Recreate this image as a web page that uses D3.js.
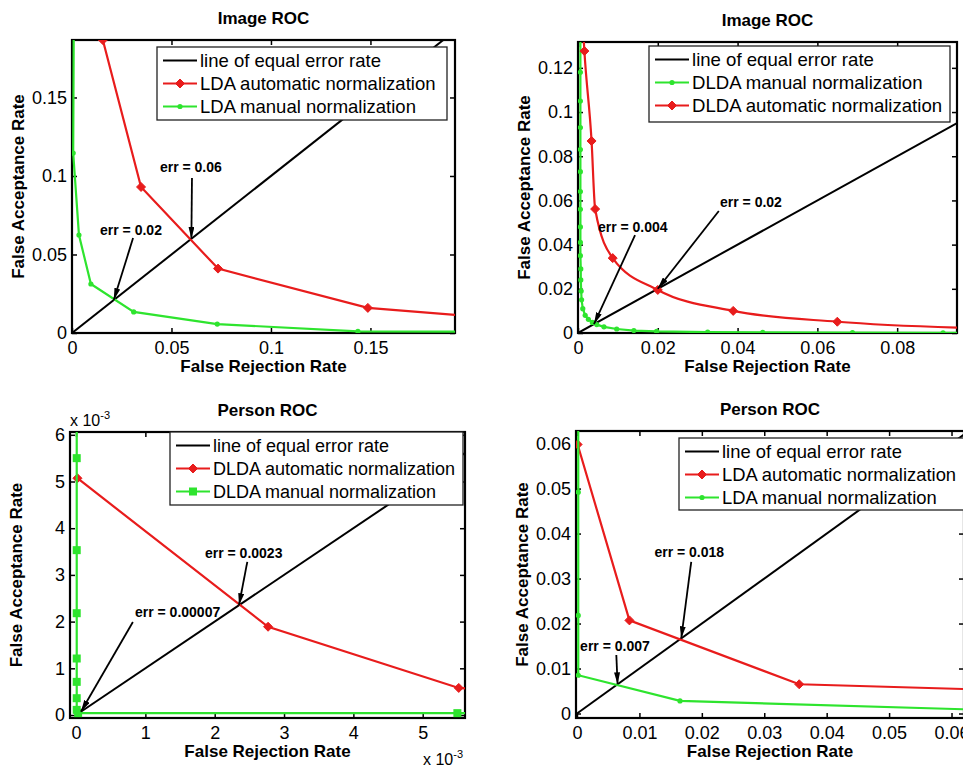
<!DOCTYPE html>
<html>
<head>
<meta charset="utf-8">
<title>Image and Person ROC</title>
<script src="https://d3js.org/d3.v7.min.js"></script>
<style>
	body { margin: 0; background: #fff; }
	svg { font-family: "Liberation Sans", Arial, sans-serif; }
</style>
</head>
<body>
<script>
	// points are [false rejection rate, false acceptance rate]

	// Image ROC, LDA (top left)
	var imgLdaAuto = [[0.0155,0.1866],[0.0347,0.093],[0.0734,0.041],[0.1487,0.016],[0.2,0.0108]];
	var imgLdaManual = [[0.0009,0.2],[0.0006,0.1146],[0.0035,0.0624],[0.0095,0.0312],[0.031,0.0134],[0.073,0.0057],[0.1437,0.001],[0.2,0.0008]];
	var imgLdaErr = [[0.06,0.06],[0.021,0.021]];
	var imgLdaErrText = ["err = 0.06", "err = 0.02"];

	// Image ROC, DLDA (top right)
	var imgDldaManual = [[0.0006,0.14],[0.0006,0.118],[0.0006,0.105],[0.0006,0.093],[0.0006,0.083],[0.0006,0.073],
		[0.0006,0.064],[0.0006,0.056],[0.0006,0.048],[0.0006,0.041],[0.0006,0.035],[0.0007,0.029],[0.0007,0.024],
		[0.0008,0.019],[0.0009,0.015],[0.0012,0.011],[0.0018,0.008],[0.0026,0.0062],[0.0036,0.0048],[0.0047,0.0038],
		[0.0065,0.0028],[0.0097,0.0018],[0.014,0.0011],[0.0197,0.0007],[0.0325,0.0004],[0.0463,0.0003],
		[0.0688,0.0002],[0.0915,0.0001],[0.1,0.0001]];
	var imgDldaAuto = [[0.0012,0.14],[0.0016,0.1276],[0.0034,0.0869],[0.0043,0.0561],[0.0087,0.0339],[0.02,0.0195],
		[0.0389,0.01],[0.065,0.0051],[0.1,0.0021]];
	var imgDldaErr = [[0.02,0.02],[0.004,0.004]];
	var imgDldaErrText = ["err = 0.02", "err = 0.004"];

	// Person ROC, DLDA (bottom left)
	var perDldaAuto = [[0.00002,0.00507],[0.00277,0.00189],[0.00552,0.00058],[0.0058,0.00055]];
	var perDldaManual = [[0.00001,0.0065],[0.00001,0.0055],[0.00001,0.00353],[0.00001,0.00218],[0.00001,0.00121],
		[0.00001,0.00071],[0.00001,0.00036],[0.00001,0.00011],[0.00003,0.00004],[0.0055,0.00004],[0.0058,0.00004]];
	var perDldaErr = [[0.00235,0.00235],[0.00007,0.00007]];
	var perDldaErrText = ["err = 0.0023", "err = 0.00007"];

	// Person ROC, LDA (bottom right)
	var perLdaAuto = [[0.0001,0.0598],[0.0084,0.0207],[0.0356,0.0065],[0.063,0.0054]];
	var perLdaManual = [[0.0002,0.07],[0.0002,0.0492],[0.0002,0.0218],[0.0002,0.0085],[0.0165,0.0028],[0.063,0.0009]];
	var perLdaErr = [[0.0167,0.0167],[0.0065,0.0065]];
	var perLdaErrText = ["err = 0.018", "err = 0.007"];

	var equalErrorLine = [[0,0],[1,1]];

	// tick values
	var p1XTicks = [0,0.05,0.1,0.15], p1YTicks = [0,0.05,0.1,0.15];
	var p2XTicks = [0,0.02,0.04,0.06,0.08], p2YTicks = [0,0.02,0.04,0.06,0.08,0.1,0.12];
	var p3XTicks = [0,0.001,0.002,0.003,0.004,0.005], p3YTicks = [0,0.001,0.002,0.003,0.004,0.005,0.006];
	var p4XTicks = [0,0.01,0.02,0.03,0.04,0.05,0.06], p4YTicks = [0,0.01,0.02,0.03,0.04,0.05,0.06];

	var RED = "#e81c1c", GREEN = "#2ee42e";
	var plain = function(v) { return String(v); },
		milli = function(v) { return String(Math.round(v * 1000)); };

	var panels = [
		{ title: "Image ROC", box: [72, 40, 455, 333], xDomain: [0, 0.1925], yDomain: [0, 0.1866],
		  xTicks: p1XTicks, yTicks: p1YTicks, fmt: plain,
		  series: [
			{ data: imgLdaAuto, color: RED, marker: "diamond", name: "LDA automatic normalization" },
			{ data: imgLdaManual, color: GREEN, marker: "dot", name: "LDA manual normalization" }],
		  legend: [157, 47, 290, 73], legendFont: 18.5,
		  notes: [{ tip: imgLdaErr[0], text: imgLdaErrText[0], tail: [0.0603, 0.0987], at: [0.0442, 0.1025] },
				  { tip: imgLdaErr[1], text: imgLdaErrText[1], tail: [0.0307, 0.0605], at: [0.0141, 0.0624] }] },
		{ title: "Image ROC", box: [578, 42, 957, 333], xDomain: [0, 0.095], yDomain: [0, 0.1317],
		  xTicks: p2XTicks, yTicks: p2YTicks, fmt: plain, smooth: true,
		  series: [
			{ data: imgDldaManual, color: GREEN, marker: "dot", name: "DLDA manual normalization" },
			{ data: imgDldaAuto, color: RED, marker: "diamond", name: "DLDA automatic normalization" }],
		  legend: [649, 46, 301, 76], legendFont: 18.6,
		  notes: [{ tip: imgDldaErr[0], text: imgDldaErrText[0], tail: [0.0353, 0.0552], at: [0.0356, 0.057] },
				  { tip: imgDldaErr[1], text: imgDldaErrText[1], tail: [0.0143, 0.0443], at: [0.005, 0.0457] }] },
		{ title: "Person ROC", box: [70, 432, 465, 718], xDomain: [-0.000087, 0.00561], yDomain: [-0.000064, 0.00606],
		  xTicks: p3XTicks, yTicks: p3YTicks, fmt: milli, exponent: true,
		  series: [
			{ data: perDldaAuto, color: RED, marker: "diamond", name: "DLDA automatic normalization" },
			{ data: perDldaManual, color: GREEN, marker: "square", name: "DLDA manual normalization" }],
		  legend: [170, 432, 293, 73], legendFont: 18,
		  notes: [{ tip: perDldaErr[0], text: perDldaErrText[0], tail: [0.00247, 0.00328], at: [0.00186, 0.00336] },
				  { tip: perDldaErr[1], text: perDldaErrText[1], tail: [0.00082, 0.00199], at: [0.00085, 0.0021] }] },
		{ title: "Person ROC", box: [576, 431, 964, 718], xDomain: [-0.00016, 0.062], yDomain: [-0.001, 0.0628],
		  xTicks: p4XTicks, yTicks: p4YTicks, fmt: plain,
		  series: [
			{ data: perLdaAuto, color: RED, marker: "diamond", name: "LDA automatic normalization" },
			{ data: perLdaManual, color: GREEN, marker: "dot", name: "LDA manual normalization" }],
		  legend: [679, 438, 290, 72], legendFont: 18.4,
		  notes: [{ tip: perLdaErr[0], text: perLdaErrText[0], tail: [0.0183, 0.0337], at: [0.0124, 0.0347] },
				  { tip: perLdaErr[1], text: perLdaErrText[1], tail: [0.0063, 0.013], at: [0.0005, 0.0139] }] }
	];

	var svg = d3.select("body").append("svg")
		.attr("width", 963)
		.attr("height", 767);
	var defs = svg.append("defs");

	defs.append("marker")
		.attr("id", "arrowhead")
		.attr("viewBox", "0 0 12 6")
		.attr("refX", 12).attr("refY", 3)
		.attr("markerWidth", 12).attr("markerHeight", 6)
		.attr("markerUnits", "userSpaceOnUse")
		.attr("orient", "auto")
		.append("path").attr("d", "M0,0 L12,3 L0,6 Z").attr("fill", "#000");

	// marker shapes
	function drawMarker(sel, kind, color) {
		if (kind === "diamond") {
			sel.append("path").attr("d", "M0,-4.5L4.5,0L0,4.5L-4.5,0Z").attr("fill", color).attr("stroke", color);
		} else if (kind === "square") {
			sel.append("rect").attr("x", -4).attr("y", -4).attr("width", 8).attr("height", 8).attr("fill", color);
		} else {
			sel.append("circle").attr("r", 2.6).attr("fill", color);
		}
	}

	panels.forEach(drawPanel);

	function drawPanel(p, i) {
		var x0 = p.box[0], y0 = p.box[1], x1 = p.box[2], y1 = p.box[3];
		var x = d3.scaleLinear().domain(p.xDomain).range([x0, x1]),
			y = d3.scaleLinear().domain(p.yDomain).range([y1, y0]);
		var g = svg.append("g");

		defs.append("clipPath").attr("id", "clip" + i)
			.append("rect").attr("x", x0).attr("y", y0).attr("width", x1 - x0).attr("height", y1 - y0);

		// axes box (under the data, like matlab)
		g.append("rect")
			.attr("x", x0).attr("y", y0)
			.attr("width", x1 - x0).attr("height", y1 - y0)
			.attr("fill", "none")
			.attr("stroke", "#000")
			.attr("stroke-width", 2.2);

		// inward ticks on all four sides, labels only bottom and left
		var axes = [
			{ ax: d3.axisBottom(x).tickValues(p.xTicks).tickFormat(p.fmt).tickPadding(8), t: "translate(0," + y1 + ")" },
			{ ax: d3.axisLeft(y).tickValues(p.yTicks).tickFormat(p.fmt).tickPadding(5), t: "translate(" + x0 + ",0)" },
			{ ax: d3.axisTop(x).tickValues(p.xTicks).tickFormat(""), t: "translate(0," + y0 + ")" },
			{ ax: d3.axisRight(y).tickValues(p.yTicks).tickFormat(""), t: "translate(" + x1 + ",0)" }
		];
		axes.forEach(function(a) {
			var ag = g.append("g")
				.attr("transform", a.t)
				.call(a.ax.tickSizeInner(-5).tickSizeOuter(0));
			ag.select(".domain").remove();
			ag.attr("font-family", null).attr("font-size", 18);
			ag.selectAll(".tick line").attr("stroke", "#000").attr("stroke-width", 1.5);
			ag.selectAll(".tick text").attr("fill", "#000");
		});

		var plot = g.append("g").attr("clip-path", "url(#clip" + i + ")");

		var line = d3.line()
			.x(function(d) { return x(d[0]); })
			.y(function(d) { return y(d[1]); });

		plot.append("path")
			.datum(equalErrorLine)
			.attr("d", line)
			.attr("fill", "none")
			.attr("stroke", "#000")
			.attr("stroke-width", 2);

		p.series.forEach(function(s) {
			var ln = line.curve(p.smooth && s.marker === "diamond" ? d3.curveMonotoneX : d3.curveLinear);
			plot.append("path")
				.datum(s.data)
				.attr("d", ln)
				.attr("fill", "none")
				.attr("stroke", s.color)
				.attr("stroke-width", 2.2);
			plot.append("g").selectAll("g")
				.data(s.data)
				.enter().append("g")
				.attr("transform", function(d) { return "translate(" + x(d[0]) + "," + y(d[1]) + ")"; })
				.each(function() { drawMarker(d3.select(this), s.marker, s.color); });
		});
		line.curve(d3.curveLinear);

		// titles and labels
		var cx = (x0 + x1) / 2, cy = (y0 + y1) / 2;
		g.append("text")
			.attr("x", cx).attr("y", y0 - 16)
			.attr("text-anchor", "middle")
			.attr("font-weight", "bold").attr("font-size", 17)
			.text(p.title);
		g.append("text")
			.attr("x", cx).attr("y", y1 + 39)
			.attr("text-anchor", "middle")
			.attr("font-weight", "bold").attr("font-size", 17)
			.text("False Rejection Rate");
		g.append("text")
			.attr("transform", "translate(" + (x0 - 48) + "," + cy + ") rotate(-90)")
			.attr("text-anchor", "middle")
			.attr("font-weight", "bold").attr("font-size", 17)
			.text("False Acceptance Rate");

		if (p.exponent) {
			var e1 = g.append("text").attr("x", x0).attr("y", y0 - 6).attr("font-size", 16);
			e1.append("tspan").text("x 10");
			e1.append("tspan").attr("font-size", 11).attr("dy", -7).text("-3");
			var e2 = g.append("text").attr("x", x1 - 42).attr("y", y1 + 47).attr("font-size", 16);
			e2.append("tspan").text("x 10");
			e2.append("tspan").attr("font-size", 11).attr("dy", -7).text("-3");
		}

		// err annotations
		p.notes.forEach(function(n) {
			g.append("line")
				.attr("x1", x(n.tail[0])).attr("y1", y(n.tail[1]))
				.attr("x2", x(n.tip[0])).attr("y2", y(n.tip[1]))
				.attr("stroke", "#000")
				.attr("stroke-width", 1.8)
				.attr("marker-end", "url(#arrowhead)");
			g.append("text")
				.attr("x", x(n.at[0])).attr("y", y(n.at[1]))
				.attr("font-weight", "bold").attr("font-size", 14)
				.text(n.text);
		});

		// legend
		var L = p.legend;
		var lg = g.append("g").attr("transform", "translate(" + L[0] + "," + L[1] + ")");
		lg.append("rect")
			.attr("width", L[2]).attr("height", L[3])
			.attr("fill", "#fff")
			.attr("stroke", "#222")
			.attr("stroke-width", 1.3);
		var entries = [{ color: "#000", marker: null, name: "line of equal error rate" }].concat(p.series);
		entries.forEach(function(s, k) {
			var ry = 13.5 + k * 23;
			lg.append("line")
				.attr("x1", 6).attr("x2", 40)
				.attr("y1", ry).attr("y2", ry)
				.attr("stroke", s.color)
				.attr("stroke-width", 2.2);
			if (s.marker) {
				drawMarker(lg.append("g").attr("transform", "translate(23," + ry + ")"), s.marker, s.color);
			}
			lg.append("text")
				.attr("x", 43).attr("y", ry + 6.5)
				.attr("font-size", p.legendFont)
				.text(s.name);
		});
	}
</script>
</body>
</html>
